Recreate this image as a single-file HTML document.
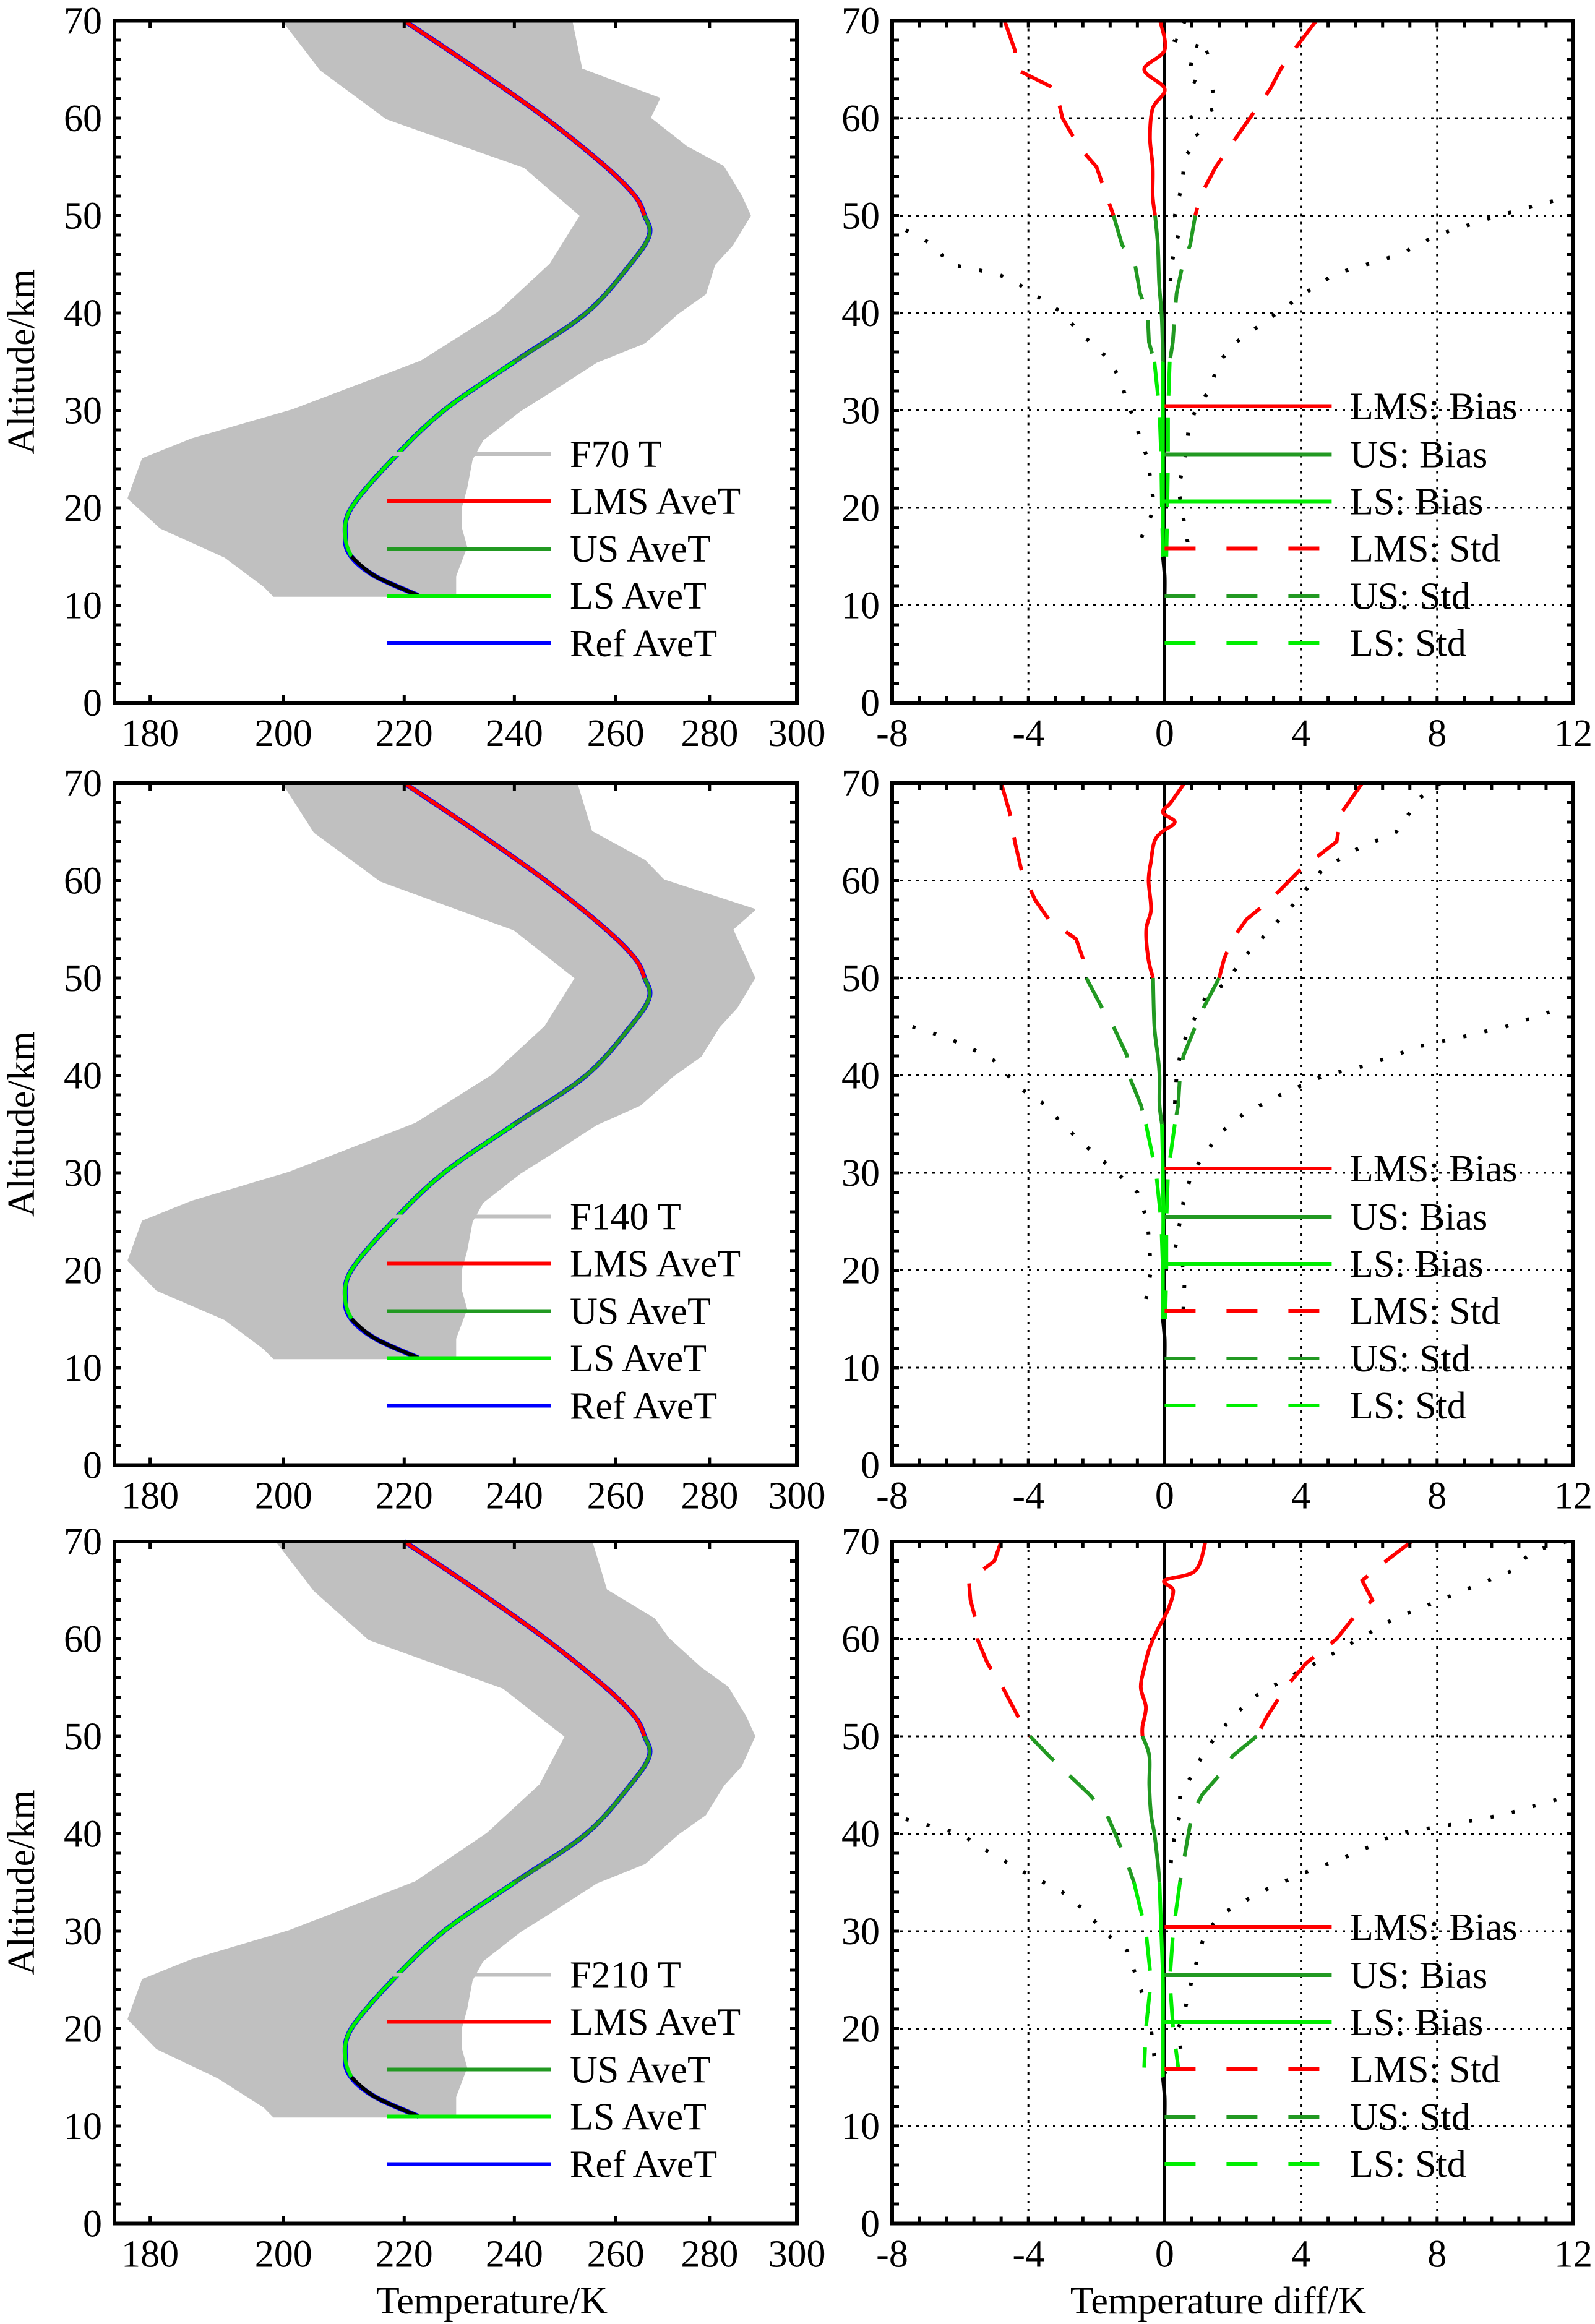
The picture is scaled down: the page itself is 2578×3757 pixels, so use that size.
<!DOCTYPE html>
<html><head><meta charset="utf-8">
<style>
html,body{margin:0;padding:0;background:#fff;}
svg{display:block;font-family:"Liberation Serif","Times New Roman",serif;}
text{font-family:"Liberation Serif","Times New Roman",serif;fill:#000;}
</style></head>
<body>
<svg id="fig" width="2578" height="3757" viewBox="0 0 2578 3757" xmlns="http://www.w3.org/2000/svg" font-family="Liberation Serif, serif"></svg>
<script>
// ---------- data ----------
const rowLabels = ["F70 T","F140 T","F210 T"];
const tempTicks = [180,200,220,240,260,280,300];
const altTicks = [0,10,20,30,40,50,60,70];
const diffTicks = [-8,-4,0,4,8,12];

const envLeftAlt = [70,65,60,55,50,45,40,35,30,27,25,21,18,15,12,11];
const envLeftT1 = [200,206,217,242,253,247,237,223,201.5,186,179,177,181.5,191,197,198.5];
const envLeftT2 = [200,205,216,240,252,246,236,222,201,186,179,177,181,191,197,198.5];
const envLeftT3 = [199,205,214,238,250,245,235,222,201,186,179,177,181,190,197,198.5];
const envRightAlt = [70,65,62,60,57,55,52,50,47,45,42,40,37,35,32,30,27,25,22,20,18,16,13,11];
const envRightT1 = [251,253,269,267,275,283,287,289,285,281,279,273,266,256,247,241,234,232,231,230,230,231,229,229];
const envRightT2 = [252,255,266,270,290,285,288,290,286,282,278,272,265,256,247,241,234,232,231,230,230,231,229,229];
const envRightT3 = [255,258,268,271,278,284,288,290,287,283,279,273,266,256,247,241,234,232,231,230,230,231,229,229];

const aveAlt = [70,65,60,55,52,50,48,45,40,35,30,25,20,17,15,13,11];
const aveT = [220,233,246,258,264,266,267,263,254,240,227,218,211,210,211,215,222.5];

const biasAlt1 = [70,67,65,63,61,58,55,52,50,47,43,40,37,35,30,25,20,15,13,11];
const bias1 = [-0.13,0,-0.6,0,-0.35,-0.43,-0.35,-0.35,-0.28,-0.2,-0.16,-0.09,-0.06,-0.05,-0.05,-0.05,-0.05,-0.05,0,0];
const biasAlt2 = [70,68,67,66,65,64,62,60,57,55,52,50,45,42,40,37,35,30,25,20,15,13,11];
const bias2 = [0.58,0.18,-0.05,0.3,-0.08,-0.3,-0.4,-0.47,-0.4,-0.54,-0.48,-0.34,-0.3,-0.2,-0.15,-0.15,-0.08,-0.05,-0.04,-0.05,-0.05,0,0];
const biasAlt3 = [70,67,66,65,63,61,59,57,55,53,51,50,48,45,42,40,37,35,30,25,20,15,13,11];
const bias3 = [1.2,0.9,0,0.25,0.1,-0.2,-0.45,-0.6,-0.7,-0.55,-0.65,-0.65,-0.45,-0.45,-0.4,-0.3,-0.2,-0.15,-0.1,-0.05,-0.05,-0.05,0,0];

const stdAlt1 = [70,67,65,63,60,57,55,52,50,47,45,42,40,37,35,30,25,20,15];
const stdLo1 = [-4.7,-4.4,-4.35,-3.2,-3.0,-2.5,-2.0,-1.7,-1.5,-1.25,-0.87,-0.72,-0.5,-0.46,-0.3,-0.15,-0.1,-0.08,-0.05];
const stdHi1 = [4.45,3.8,3.4,3.1,2.5,1.9,1.5,1.05,0.9,0.75,0.53,0.35,0.3,0.24,0.15,0.1,0.1,0.08,0.05];
const stdAlt2 = [70,67,64,61,58,56,54,52,50,47,45,42,40,37,35,30,25,20,15];
const stdLo2 = [-4.8,-4.55,-4.4,-4.2,-3.8,-3.4,-2.6,-2.4,-2.3,-1.85,-1.5,-1.1,-1.05,-0.7,-0.55,-0.25,-0.1,-0.05,-0.02];
const stdHi2 = [5.8,5.2,5.05,3.95,3.1,2.4,2.0,1.75,1.6,1.15,0.9,0.55,0.45,0.4,0.3,0.1,0.05,0.05,0.02];
const stdAlt3 = [70,68,66,64,62,60,57.5,55,52,50,48,46,44,42,40,37,35,30,25,20,16];
const stdLo3 = [-4.8,-5.0,-5.75,-5.7,-5.55,-5.5,-5.2,-4.75,-4.3,-3.95,-3.4,-2.8,-2.2,-1.7,-1.45,-1.1,-0.9,-0.55,-0.4,-0.55,-0.6];
const stdHi3 = [7.25,6.5,5.8,6.1,5.5,5.05,4.15,3.55,3.0,2.7,2.0,1.6,1.1,0.8,0.7,0.55,0.45,0.25,0.15,0.25,0.4];

const dotLAlt1 = [48.5,47,45,44,43,40,38,35,32,29,25,20,16];
const dotL1 = [-7.6,-6.8,-6.3,-4.9,-4.3,-3.0,-2.5,-1.55,-1.2,-0.9,-0.5,-0.3,-0.8];
const dotRAlt1 = [51.5,50,48,46,44,42,40,37,35,32,30,28,25,22,18,16];
const dotR1 = [11.4,9.8,8.0,6.9,5.0,4.1,3.3,2.1,1.6,1.3,0.9,0.7,0.6,0.4,0.6,0.7];
const dotUAlt1 = [70,68,67,66,64,63,61,60,58,56,53,50,48,45,42];
const dotU1 = [0.6,0.3,1.4,0.8,0.7,1.4,1.5,0.7,1.0,0.6,0.5,0.3,0.4,0.2,0.15];

const dotLAlt2 = [45,44,43,41.5,40,38,37,35,33,30,28,25,20,16];
const dotL2 = [-7.4,-6.5,-5.8,-5.0,-4.6,-4.0,-3.5,-3.0,-2.4,-1.4,-0.8,-0.5,-0.4,-0.6];
const dotRAlt2 = [46.5,45,44,43,41,40,38,36,34,32,30,27,25,22,20,16];
const dotR2 = [11.3,10.0,8.8,7.5,5.9,4.7,3.4,2.3,1.6,1.2,0.8,0.55,0.45,0.3,0.6,0.55];
const dotUAlt2 = [70,68.5,67,65,63,61,58,55,52,49.5,48,46,43,40,37];
const dotU2 = [8.1,7.5,7.2,6.8,5.5,4.6,3.9,3.1,2.3,1.8,1.2,0.9,0.5,0.35,0.3];

const dotLAlt3 = [41.5,40,38,36,34,32,30,28,26,24,22,20,17,15];
const dotL3 = [-7.6,-6.0,-5.1,-4.1,-3.0,-2.3,-1.8,-1.1,-0.9,-0.7,-0.5,-0.4,-0.3,0.1];
const dotRAlt3 = [43.5,42,41,40,38,36,34,32,30,27,25,22,20,17];
const dotR3 = [11.5,10.0,8.5,6.8,5.6,4.1,2.8,1.8,1.2,0.95,0.8,0.6,0.4,0.5];
const dotUAlt3 = [70,69,67,66,64,62,60,58,56,54,52,50,48,46,44,42,39,36];
const dotU3 = [11.8,10.8,10.2,9.5,8.1,6.7,5.7,4.7,3.6,2.6,2.0,1.5,1.1,0.8,0.45,0.45,0.25,0.15];

// ---------- layout ----------
const NS = "http://www.w3.org/2000/svg";
const svg = document.getElementById('fig');
const rowTops = [33.5,1266,2492];
const H = 1102.5;
const LX0 = 185, LX1 = 1288, RX0 = 1442, RX1 = 2543;
const TMIN = 175, TMAX = 300, DMIN = -8, DMAX = 12;
const RED = "#ff0000", DG = "#229922", LIME = "#00ee00", BLUE = "#0000ff";
const FONT = '"Liberation Serif", "Times New Roman", serif';

function mk(tag, attrs, parent){
  const e = document.createElementNS(NS, tag);
  for (const k in attrs) e.setAttribute(k, attrs[k]);
  (parent||svg).appendChild(e);
  return e;
}
function xT(t){ return LX0 + (Math.log(t/TMIN))/(Math.log(TMAX/TMIN))*(LX1-LX0); }
function xD(d){ return RX0 + (d-DMIN)/(DMAX-DMIN)*(RX1-RX0); }
function yA(top, a){ return top + H - a/70*H; }
function pts(xs, alts, fx, top){
  return xs.map((v,i)=>fx(v).toFixed(1)+","+yA(top,alts[i]).toFixed(1)).join(" ");
}
// smooth path (Catmull-Rom) through data points
function smooth(xs, alts, fx, top){
  const P = xs.map((v,i)=>[fx(v), yA(top,alts[i])]);
  let d = `M${P[0][0].toFixed(1)},${P[0][1].toFixed(1)}`;
  for (let i=0;i<P.length-1;i++){
    const p0=P[Math.max(0,i-1)], p1=P[i], p2=P[i+1], p3=P[Math.min(P.length-1,i+2)];
    const c1=[p1[0]+(p2[0]-p0[0])/6, p1[1]+(p2[1]-p0[1])/6];
    const c2=[p2[0]-(p3[0]-p1[0])/6, p2[1]-(p3[1]-p1[1])/6];
    d += `C${c1[0].toFixed(1)},${c1[1].toFixed(1)} ${c2[0].toFixed(1)},${c2[1].toFixed(1)} ${p2[0].toFixed(1)},${p2[1].toFixed(1)}`;
  }
  return d;
}
function seg(alts, vals, lo, hi){
  const a=[], v=[];
  alts.forEach((al,i)=>{ if(al>=lo-1e-9 && al<=hi+1e-9){a.push(al); v.push(vals[i]);} });
  return [a,v];
}
function txt(s, x, y, anchor, g, name, size){
  const t = mk('text',{x:x,y:y,'text-anchor':anchor||'middle','font-size':size||62,'font-family':FONT},g);
  t.textContent = s;
  
  
  return t;
}

const envL = [envLeftT1, envLeftT2, envLeftT3];
const envR = [envRightT1, envRightT2, envRightT3];
const biasA = [biasAlt1,biasAlt2,biasAlt3], biasV = [bias1,bias2,bias3];
const stdA = [stdAlt1,stdAlt2,stdAlt3], stdL = [stdLo1,stdLo2,stdLo3], stdH = [stdHi1,stdHi2,stdHi3];
const dLA = [dotLAlt1,dotLAlt2,dotLAlt3], dL = [dotL1,dotL2,dotL3];
const dRA = [dotRAlt1,dotRAlt2,dotRAlt3], dR = [dotR1,dotR2,dotR3];
const dUA = [dotUAlt1,dotUAlt2,dotUAlt3], dU = [dotU1,dotU2,dotU3];

for (let r=0; r<3; r++){
  const top = rowTops[r], bot = top + H;
  // ===== LEFT PANEL =====
  const gl = mk('g',{});
  
  
  const bandPts = pts(envL[r], envLeftAlt, xT, top) + " " +
    pts(envR[r].slice().reverse(), envRightAlt.slice().reverse(), xT, top);
  const band = mk('polygon',{points:bandPts, fill:'#c0c0c0', stroke:'#c0c0c0','stroke-width':4,'stroke-linejoin':'round'}, gl);
  
  
  const ref = mk('path',{d:smooth(aveT, aveAlt, xT, top), fill:'none', stroke:BLUE, 'stroke-width':8}, gl);
  
  
  const segsL = [[50,70,RED,'lms-avet-line'],[35,50,DG,'us-avet-line'],[15,35,LIME,'ls-avet-line'],[11,15,'#000','low-avet-line']];
  segsL.forEach(s=>{
    const [a,v] = seg(aveAlt, aveT, s[0], s[1]);
    const p = mk('path',{d:smooth(v,a,xT,top), fill:'none', stroke:s[2], 'stroke-width':6,'stroke-linejoin':'round'}, gl);
    
    
  });
  const fr = mk('rect',{x:LX0,y:top,width:LX1-LX0,height:H,fill:'none',stroke:'#000','stroke-width':6}, gl);
  
  
  let td = "";
  for (let a=0; a<=70; a+=2){ const y=yA(top,a); td += `M${LX0},${y}h11M${LX1},${y}h-11`; }
  tempTicks.forEach(t=>{ const x=xT(t); td += `M${x},${bot}v-12M${x},${top}v12`; });
  mk('path',{d:td, stroke:'#000','stroke-width':5,fill:'none'}, gl);
  altTicks.forEach(a=>{ txt(String(a), 165, yA(top,a)+21, 'end', gl, 'y-tick-label'); });
  tempTicks.forEach(t=>{ txt(String(t), xT(t), bot+70, 'middle', gl, 'x-tick-label'); });
  const yt = mk('text',{x:0,y:0,'text-anchor':'middle','font-size':62,'font-family':FONT,transform:`translate(55,${top+H/2}) rotate(-90)`}, gl);
  yt.textContent = "Altitude/km";
  
  
  const legL = [[rowLabels[r],'#c0c0c0'],['LMS AveT',RED],['US AveT',DG],['LS AveT',LIME],['Ref AveT',BLUE]];
  const legY = [700.5,776.5,853.5,929.5,1006.5];
  legL.forEach((e,i)=>{
    const y = top + legY[i];
    const ln = mk('line',{x1:625,x2:891,y1:y,y2:y,stroke:e[1],'stroke-width':6}, gl);
    
    
    txt(e[0], 921, y+21, 'start', gl, 'legend-entry');
  });

  // ===== RIGHT PANEL =====
  const gr = mk('g',{});
  
  
  let gd = "";
  [-4,4,8].forEach(d=>{ const x=xD(d); gd += `M${x},${top}V${bot}`; });
  for (let a=10; a<=60; a+=10){ const y=yA(top,a); gd += `M${RX0},${y}H${RX1}`; }
  const grid = mk('path',{d:gd, stroke:'#000','stroke-width':3,'stroke-dasharray':'4 9',fill:'none'}, gr);
  
  
  const zl = mk('line',{x1:xD(0),x2:xD(0),y1:top,y2:bot,stroke:'#000','stroke-width':5}, gr);
  
  
  [[dL[r],dLA[r],'dotted-left-series'],[dR[r],dRA[r],'dotted-right-series'],[dU[r],dUA[r],'dotted-upper-series']].forEach(s=>{
    const p = mk('polyline',{points:pts(s[0],s[1],xD,top), fill:'none', stroke:'#000','stroke-width':6,'stroke-dasharray':'5 30'}, gr);
    
    
  });
  const segsR = [[50,70,RED,'lms'],[35,50,DG,'us'],[15,35,LIME,'ls']];
  segsR.forEach(s=>{
    [[stdL[r],'lo'],[stdH[r],'hi']].forEach(q=>{
      const [a,v] = seg(stdA[r], q[0], s[0], s[1]);
      const p = mk('polyline',{points:pts(v,a,xD,top), fill:'none', stroke:s[2],'stroke-width':6,'stroke-dasharray':'55 35'}, gr);
      
      
    });
  });
  segsR.concat([[11,15,'#000','low']]).forEach(s=>{
    const [a,v] = seg(biasA[r], biasV[r], s[0], s[1]);
    const p = mk('path',{d:smooth(v,a,xD,top), fill:'none', stroke:s[2],'stroke-width':6,'stroke-linejoin':'round'}, gr);
    
    
  });
  const fr2 = mk('rect',{x:RX0,y:top,width:RX1-RX0,height:H,fill:'none',stroke:'#000','stroke-width':6}, gr);
  
  
  let td2 = "";
  for (let a=0; a<=70; a+=2){ const y=yA(top,a); td2 += `M${RX0},${y}h11M${RX1},${y}h-11`; }
  for (let d=-8; d<=12.001; d+=0.8){ const x=xD(d); td2 += `M${x},${bot}v-11M${x},${top}v11`; }
  mk('path',{d:td2, stroke:'#000','stroke-width':5,fill:'none'}, gr);
  altTicks.forEach(a=>{ txt(String(a), 1422, yA(top,a)+21, 'end', gr, 'y-tick-label'); });
  diffTicks.forEach(d=>{ txt(String(d), xD(d), bot+70, 'middle', gr, 'x-tick-label'); });
  const legR = [['LMS: Bias',RED,0],['US: Bias',DG,0],['LS: Bias',LIME,0],['LMS: Std',RED,1],['US: Std',DG,1],['LS: Std',LIME,1]];
  const legRY = [623,701,777,853,930,1006];
  legR.forEach((e,i)=>{
    const y = top + legRY[i];
    const x0 = xD(0);
    const at = {x1:x0,x2:x0+(e[2]?250:270),y1:y,y2:y,stroke:e[1],'stroke-width':6};
    if (e[2]) at['stroke-dasharray'] = '50 50';
    const ln = mk('line',at, gr);
    
    
    txt(e[0], 2182, y+21, 'start', gr, 'legend-entry');
  });
}
txt("Temperature/K", 795, 3740, 'middle', svg, 'x-axis-title-left');
txt("Temperature diff/K", 1969, 3740, 'middle', svg, 'x-axis-title-right');
</script>
</body></html>
